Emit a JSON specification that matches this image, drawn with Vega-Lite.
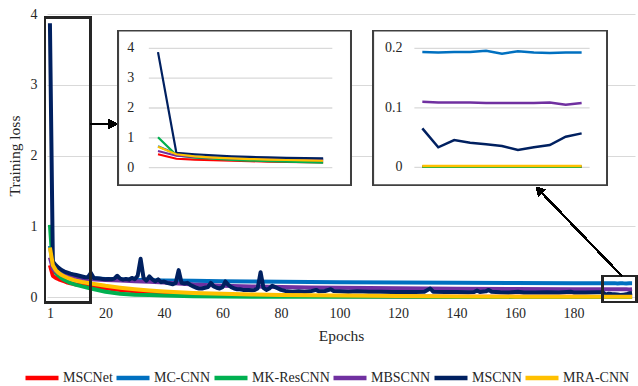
{
"$schema": "https://vega.github.io/schema/vega-lite/v6.json",
"width": 588, "height": 283,
"autosize": "none",
"padding": {"left": 47, "top": 14, "right": 3, "bottom": 89},
"config": {
 "view": {"stroke": null},
 "font": "Liberation Serif",
 "axis": {"labelFont": "Liberation Serif", "titleFont": "Liberation Serif", "labelColor": "#262626", "titleColor": "#262626", "labelFontSize": 14, "titleFontSize": 15.5, "titleFontWeight": "normal", "domain": false, "ticks": false, "tickSize": 0, "gridColor": "#d9d9d9", "gridWidth": 1.2}
},
"data": {"values": [
{"model":"MSCNet","epoch":1,"loss":0.45},{"model":"MSCNet","epoch":2,"loss":0.30},{"model":"MSCNet","epoch":3,"loss":0.27},{"model":"MSCNet","epoch":4,"loss":0.25},{"model":"MSCNet","epoch":5,"loss":0.235},{"model":"MSCNet","epoch":6,"loss":0.22},{"model":"MSCNet","epoch":7,"loss":0.205},{"model":"MSCNet","epoch":8,"loss":0.195},{"model":"MSCNet","epoch":9,"loss":0.185},{"model":"MSCNet","epoch":10,"loss":0.178},{"model":"MSCNet","epoch":12,"loss":0.165},{"model":"MSCNet","epoch":15,"loss":0.148},{"model":"MSCNet","epoch":20,"loss":0.122},{"model":"MSCNet","epoch":25,"loss":0.1},{"model":"MSCNet","epoch":30,"loss":0.082},{"model":"MSCNet","epoch":35,"loss":0.068},{"model":"MSCNet","epoch":40,"loss":0.057},{"model":"MSCNet","epoch":50,"loss":0.042},{"model":"MSCNet","epoch":60,"loss":0.032},{"model":"MSCNet","epoch":70,"loss":0.025},{"model":"MSCNet","epoch":80,"loss":0.019},{"model":"MSCNet","epoch":90,"loss":0.014},{"model":"MSCNet","epoch":100,"loss":0.011},{"model":"MSCNet","epoch":120,"loss":0.006},{"model":"MSCNet","epoch":140,"loss":0.004},{"model":"MSCNet","epoch":160,"loss":0.003},{"model":"MSCNet","epoch":180,"loss":0.002},
{"model":"MSCNet","epoch":190,"loss":0.001},{"model":"MSCNet","epoch":191,"loss":0.001},{"model":"MSCNet","epoch":192,"loss":0.001},{"model":"MSCNet","epoch":193,"loss":0.001},{"model":"MSCNet","epoch":194,"loss":0.001},{"model":"MSCNet","epoch":195,"loss":0.001},{"model":"MSCNet","epoch":196,"loss":0.001},{"model":"MSCNet","epoch":197,"loss":0.001},{"model":"MSCNet","epoch":198,"loss":0.001},{"model":"MSCNet","epoch":199,"loss":0.001},{"model":"MSCNet","epoch":200,"loss":0.001},
{"model":"MC-CNN","epoch":1,"loss":0.72},{"model":"MC-CNN","epoch":2,"loss":0.46},{"model":"MC-CNN","epoch":3,"loss":0.39},{"model":"MC-CNN","epoch":4,"loss":0.35},{"model":"MC-CNN","epoch":5,"loss":0.325},{"model":"MC-CNN","epoch":6,"loss":0.31},{"model":"MC-CNN","epoch":7,"loss":0.3},{"model":"MC-CNN","epoch":8,"loss":0.29},{"model":"MC-CNN","epoch":9,"loss":0.285},{"model":"MC-CNN","epoch":10,"loss":0.28},{"model":"MC-CNN","epoch":12,"loss":0.272},{"model":"MC-CNN","epoch":15,"loss":0.264},{"model":"MC-CNN","epoch":20,"loss":0.255},{"model":"MC-CNN","epoch":25,"loss":0.248},{"model":"MC-CNN","epoch":30,"loss":0.243},{"model":"MC-CNN","epoch":35,"loss":0.238},{"model":"MC-CNN","epoch":40,"loss":0.234},{"model":"MC-CNN","epoch":50,"loss":0.228},{"model":"MC-CNN","epoch":60,"loss":0.223},{"model":"MC-CNN","epoch":70,"loss":0.218},{"model":"MC-CNN","epoch":80,"loss":0.214},{"model":"MC-CNN","epoch":90,"loss":0.211},{"model":"MC-CNN","epoch":100,"loss":0.208},{"model":"MC-CNN","epoch":120,"loss":0.204},{"model":"MC-CNN","epoch":140,"loss":0.2},{"model":"MC-CNN","epoch":160,"loss":0.197},{"model":"MC-CNN","epoch":180,"loss":0.195},
{"model":"MC-CNN","epoch":190,"loss":0.194},{"model":"MC-CNN","epoch":191,"loss":0.193},{"model":"MC-CNN","epoch":192,"loss":0.194},{"model":"MC-CNN","epoch":193,"loss":0.194},{"model":"MC-CNN","epoch":194,"loss":0.196},{"model":"MC-CNN","epoch":195,"loss":0.191},{"model":"MC-CNN","epoch":196,"loss":0.195},{"model":"MC-CNN","epoch":197,"loss":0.193},{"model":"MC-CNN","epoch":198,"loss":0.192},{"model":"MC-CNN","epoch":199,"loss":0.193},{"model":"MC-CNN","epoch":200,"loss":0.193},
{"model":"MK-ResCNN","epoch":1,"loss":1.02},{"model":"MK-ResCNN","epoch":2,"loss":0.42},{"model":"MK-ResCNN","epoch":3,"loss":0.34},{"model":"MK-ResCNN","epoch":4,"loss":0.3},{"model":"MK-ResCNN","epoch":5,"loss":0.265},{"model":"MK-ResCNN","epoch":6,"loss":0.24},{"model":"MK-ResCNN","epoch":7,"loss":0.22},{"model":"MK-ResCNN","epoch":8,"loss":0.2},{"model":"MK-ResCNN","epoch":9,"loss":0.185},{"model":"MK-ResCNN","epoch":10,"loss":0.172},{"model":"MK-ResCNN","epoch":12,"loss":0.15},{"model":"MK-ResCNN","epoch":15,"loss":0.12},{"model":"MK-ResCNN","epoch":20,"loss":0.075},{"model":"MK-ResCNN","epoch":25,"loss":0.045},{"model":"MK-ResCNN","epoch":30,"loss":0.032},{"model":"MK-ResCNN","epoch":35,"loss":0.03},{"model":"MK-ResCNN","epoch":40,"loss":0.02},{"model":"MK-ResCNN","epoch":50,"loss":0.012},{"model":"MK-ResCNN","epoch":60,"loss":0.008},{"model":"MK-ResCNN","epoch":70,"loss":0.005},{"model":"MK-ResCNN","epoch":80,"loss":0.004},{"model":"MK-ResCNN","epoch":90,"loss":0.003},{"model":"MK-ResCNN","epoch":100,"loss":0.002},{"model":"MK-ResCNN","epoch":120,"loss":0.002},{"model":"MK-ResCNN","epoch":140,"loss":0.001},{"model":"MK-ResCNN","epoch":160,"loss":0.001},{"model":"MK-ResCNN","epoch":180,"loss":0.001},
{"model":"MK-ResCNN","epoch":190,"loss":0.001},{"model":"MK-ResCNN","epoch":191,"loss":0.001},{"model":"MK-ResCNN","epoch":192,"loss":0.001},{"model":"MK-ResCNN","epoch":193,"loss":0.001},{"model":"MK-ResCNN","epoch":194,"loss":0.001},{"model":"MK-ResCNN","epoch":195,"loss":0.001},{"model":"MK-ResCNN","epoch":196,"loss":0.001},{"model":"MK-ResCNN","epoch":197,"loss":0.001},{"model":"MK-ResCNN","epoch":198,"loss":0.001},{"model":"MK-ResCNN","epoch":199,"loss":0.001},{"model":"MK-ResCNN","epoch":200,"loss":0.001},
{"model":"MBSCNN","epoch":1,"loss":0.56},{"model":"MBSCNN","epoch":2,"loss":0.4},{"model":"MBSCNN","epoch":3,"loss":0.36},{"model":"MBSCNN","epoch":4,"loss":0.335},{"model":"MBSCNN","epoch":5,"loss":0.315},{"model":"MBSCNN","epoch":6,"loss":0.3},{"model":"MBSCNN","epoch":7,"loss":0.29},{"model":"MBSCNN","epoch":8,"loss":0.28},{"model":"MBSCNN","epoch":9,"loss":0.272},{"model":"MBSCNN","epoch":10,"loss":0.265},{"model":"MBSCNN","epoch":12,"loss":0.258},{"model":"MBSCNN","epoch":15,"loss":0.25},{"model":"MBSCNN","epoch":20,"loss":0.24},{"model":"MBSCNN","epoch":25,"loss":0.232},{"model":"MBSCNN","epoch":30,"loss":0.224},{"model":"MBSCNN","epoch":35,"loss":0.215},{"model":"MBSCNN","epoch":40,"loss":0.205},{"model":"MBSCNN","epoch":50,"loss":0.175},{"model":"MBSCNN","epoch":60,"loss":0.16},{"model":"MBSCNN","epoch":70,"loss":0.15},{"model":"MBSCNN","epoch":80,"loss":0.143},{"model":"MBSCNN","epoch":90,"loss":0.136},{"model":"MBSCNN","epoch":100,"loss":0.13},{"model":"MBSCNN","epoch":120,"loss":0.122},{"model":"MBSCNN","epoch":140,"loss":0.117},{"model":"MBSCNN","epoch":160,"loss":0.113},{"model":"MBSCNN","epoch":180,"loss":0.111},
{"model":"MBSCNN","epoch":190,"loss":0.11},{"model":"MBSCNN","epoch":191,"loss":0.109},{"model":"MBSCNN","epoch":192,"loss":0.109},{"model":"MBSCNN","epoch":193,"loss":0.109},{"model":"MBSCNN","epoch":194,"loss":0.108},{"model":"MBSCNN","epoch":195,"loss":0.108},{"model":"MBSCNN","epoch":196,"loss":0.108},{"model":"MBSCNN","epoch":197,"loss":0.108},{"model":"MBSCNN","epoch":198,"loss":0.109},{"model":"MBSCNN","epoch":199,"loss":0.105},{"model":"MBSCNN","epoch":200,"loss":0.108},
{"model":"MSCNN","epoch":1,"loss":3.87},{"model":"MSCNN","epoch":2,"loss":0.5},{"model":"MSCNN","epoch":3,"loss":0.45},{"model":"MSCNN","epoch":4,"loss":0.41},{"model":"MSCNN","epoch":5,"loss":0.38},{"model":"MSCNN","epoch":6,"loss":0.36},{"model":"MSCNN","epoch":7,"loss":0.345},{"model":"MSCNN","epoch":8,"loss":0.33},{"model":"MSCNN","epoch":9,"loss":0.32},{"model":"MSCNN","epoch":10,"loss":0.31},
{"model":"MSCNN","epoch":11,"loss":0.3},{"model":"MSCNN","epoch":12,"loss":0.29},{"model":"MSCNN","epoch":13,"loss":0.28},{"model":"MSCNN","epoch":14,"loss":0.28},{"model":"MSCNN","epoch":15,"loss":0.34},{"model":"MSCNN","epoch":16,"loss":0.27},{"model":"MSCNN","epoch":17,"loss":0.265},{"model":"MSCNN","epoch":18,"loss":0.26},{"model":"MSCNN","epoch":19,"loss":0.255},{"model":"MSCNN","epoch":20,"loss":0.25},
{"model":"MSCNN","epoch":21,"loss":0.255},{"model":"MSCNN","epoch":22,"loss":0.25},{"model":"MSCNN","epoch":23,"loss":0.26},{"model":"MSCNN","epoch":24,"loss":0.3},{"model":"MSCNN","epoch":25,"loss":0.26},{"model":"MSCNN","epoch":26,"loss":0.245},{"model":"MSCNN","epoch":27,"loss":0.255},{"model":"MSCNN","epoch":28,"loss":0.245},{"model":"MSCNN","epoch":29,"loss":0.27},{"model":"MSCNN","epoch":30,"loss":0.25},
{"model":"MSCNN","epoch":31,"loss":0.3},{"model":"MSCNN","epoch":32,"loss":0.54},{"model":"MSCNN","epoch":33,"loss":0.27},{"model":"MSCNN","epoch":34,"loss":0.23},{"model":"MSCNN","epoch":35,"loss":0.29},{"model":"MSCNN","epoch":36,"loss":0.25},{"model":"MSCNN","epoch":37,"loss":0.22},{"model":"MSCNN","epoch":38,"loss":0.25},{"model":"MSCNN","epoch":39,"loss":0.21},{"model":"MSCNN","epoch":40,"loss":0.22},
{"model":"MSCNN","epoch":41,"loss":0.2},{"model":"MSCNN","epoch":42,"loss":0.19},{"model":"MSCNN","epoch":43,"loss":0.18},{"model":"MSCNN","epoch":44,"loss":0.2},{"model":"MSCNN","epoch":45,"loss":0.38},{"model":"MSCNN","epoch":46,"loss":0.2},{"model":"MSCNN","epoch":47,"loss":0.19},{"model":"MSCNN","epoch":48,"loss":0.2},{"model":"MSCNN","epoch":49,"loss":0.17},{"model":"MSCNN","epoch":50,"loss":0.15},
{"model":"MSCNN","epoch":51,"loss":0.13},{"model":"MSCNN","epoch":52,"loss":0.12},{"model":"MSCNN","epoch":53,"loss":0.12},{"model":"MSCNN","epoch":54,"loss":0.13},{"model":"MSCNN","epoch":55,"loss":0.14},{"model":"MSCNN","epoch":56,"loss":0.2},{"model":"MSCNN","epoch":57,"loss":0.15},{"model":"MSCNN","epoch":58,"loss":0.13},{"model":"MSCNN","epoch":59,"loss":0.12},{"model":"MSCNN","epoch":60,"loss":0.14},
{"model":"MSCNN","epoch":61,"loss":0.22},{"model":"MSCNN","epoch":62,"loss":0.17},{"model":"MSCNN","epoch":63,"loss":0.14},{"model":"MSCNN","epoch":64,"loss":0.12},{"model":"MSCNN","epoch":65,"loss":0.11},{"model":"MSCNN","epoch":66,"loss":0.11},{"model":"MSCNN","epoch":67,"loss":0.1},{"model":"MSCNN","epoch":68,"loss":0.1},{"model":"MSCNN","epoch":69,"loss":0.1},{"model":"MSCNN","epoch":70,"loss":0.095},
{"model":"MSCNN","epoch":71,"loss":0.1},{"model":"MSCNN","epoch":72,"loss":0.12},{"model":"MSCNN","epoch":73,"loss":0.35},{"model":"MSCNN","epoch":74,"loss":0.13},{"model":"MSCNN","epoch":75,"loss":0.1},{"model":"MSCNN","epoch":76,"loss":0.12},{"model":"MSCNN","epoch":77,"loss":0.16},{"model":"MSCNN","epoch":78,"loss":0.14},{"model":"MSCNN","epoch":79,"loss":0.12},{"model":"MSCNN","epoch":80,"loss":0.1},
{"model":"MSCNN","epoch":81,"loss":0.09},{"model":"MSCNN","epoch":82,"loss":0.08},{"model":"MSCNN","epoch":84,"loss":0.075},{"model":"MSCNN","epoch":86,"loss":0.08},{"model":"MSCNN","epoch":88,"loss":0.075},{"model":"MSCNN","epoch":90,"loss":0.08},{"model":"MSCNN","epoch":92,"loss":0.1},{"model":"MSCNN","epoch":93,"loss":0.08},{"model":"MSCNN","epoch":95,"loss":0.085},{"model":"MSCNN","epoch":97,"loss":0.11},{"model":"MSCNN","epoch":98,"loss":0.085},{"model":"MSCNN","epoch":100,"loss":0.08},
{"model":"MSCNN","epoch":103,"loss":0.075},{"model":"MSCNN","epoch":106,"loss":0.08},{"model":"MSCNN","epoch":110,"loss":0.075},{"model":"MSCNN","epoch":114,"loss":0.075},{"model":"MSCNN","epoch":118,"loss":0.07},{"model":"MSCNN","epoch":122,"loss":0.072},{"model":"MSCNN","epoch":126,"loss":0.07},{"model":"MSCNN","epoch":129,"loss":0.075},{"model":"MSCNN","epoch":131,"loss":0.12},{"model":"MSCNN","epoch":132,"loss":0.075},{"model":"MSCNN","epoch":136,"loss":0.07},{"model":"MSCNN","epoch":140,"loss":0.07},
{"model":"MSCNN","epoch":144,"loss":0.068},{"model":"MSCNN","epoch":146,"loss":0.07},{"model":"MSCNN","epoch":147,"loss":0.09},{"model":"MSCNN","epoch":148,"loss":0.07},{"model":"MSCNN","epoch":150,"loss":0.08},{"model":"MSCNN","epoch":151,"loss":0.1},{"model":"MSCNN","epoch":152,"loss":0.075},{"model":"MSCNN","epoch":155,"loss":0.068},{"model":"MSCNN","epoch":158,"loss":0.065},{"model":"MSCNN","epoch":161,"loss":0.075},{"model":"MSCNN","epoch":163,"loss":0.065},{"model":"MSCNN","epoch":167,"loss":0.065},{"model":"MSCNN","epoch":171,"loss":0.068},{"model":"MSCNN","epoch":175,"loss":0.065},{"model":"MSCNN","epoch":179,"loss":0.075},{"model":"MSCNN","epoch":180,"loss":0.065},{"model":"MSCNN","epoch":184,"loss":0.065},{"model":"MSCNN","epoch":188,"loss":0.068},
{"model":"MSCNN","epoch":190,"loss":0.0655},{"model":"MSCNN","epoch":191,"loss":0.0336},{"model":"MSCNN","epoch":192,"loss":0.0459},{"model":"MSCNN","epoch":193,"loss":0.0414},{"model":"MSCNN","epoch":194,"loss":0.0386},{"model":"MSCNN","epoch":195,"loss":0.0358},{"model":"MSCNN","epoch":196,"loss":0.029},{"model":"MSCNN","epoch":197,"loss":0.0336},{"model":"MSCNN","epoch":198,"loss":0.0375},{"model":"MSCNN","epoch":199,"loss":0.0515},{"model":"MSCNN","epoch":200,"loss":0.057},
{"model":"MRA-CNN","epoch":1,"loss":0.7},{"model":"MRA-CNN","epoch":2,"loss":0.45},{"model":"MRA-CNN","epoch":3,"loss":0.38},{"model":"MRA-CNN","epoch":4,"loss":0.34},{"model":"MRA-CNN","epoch":5,"loss":0.31},{"model":"MRA-CNN","epoch":6,"loss":0.29},{"model":"MRA-CNN","epoch":7,"loss":0.272},{"model":"MRA-CNN","epoch":8,"loss":0.257},{"model":"MRA-CNN","epoch":9,"loss":0.243},{"model":"MRA-CNN","epoch":10,"loss":0.232},{"model":"MRA-CNN","epoch":12,"loss":0.213},{"model":"MRA-CNN","epoch":15,"loss":0.19},{"model":"MRA-CNN","epoch":20,"loss":0.158},{"model":"MRA-CNN","epoch":25,"loss":0.132},{"model":"MRA-CNN","epoch":30,"loss":0.11},{"model":"MRA-CNN","epoch":35,"loss":0.092},{"model":"MRA-CNN","epoch":40,"loss":0.078},{"model":"MRA-CNN","epoch":50,"loss":0.058},{"model":"MRA-CNN","epoch":60,"loss":0.046},{"model":"MRA-CNN","epoch":70,"loss":0.037},{"model":"MRA-CNN","epoch":80,"loss":0.03},{"model":"MRA-CNN","epoch":90,"loss":0.024},{"model":"MRA-CNN","epoch":100,"loss":0.02},{"model":"MRA-CNN","epoch":120,"loss":0.013},{"model":"MRA-CNN","epoch":140,"loss":0.008},{"model":"MRA-CNN","epoch":160,"loss":0.005},{"model":"MRA-CNN","epoch":180,"loss":0.003},
{"model":"MRA-CNN","epoch":190,"loss":0.002},{"model":"MRA-CNN","epoch":191,"loss":0.002},{"model":"MRA-CNN","epoch":192,"loss":0.002},{"model":"MRA-CNN","epoch":193,"loss":0.002},{"model":"MRA-CNN","epoch":194,"loss":0.002},{"model":"MRA-CNN","epoch":195,"loss":0.002},{"model":"MRA-CNN","epoch":196,"loss":0.002},{"model":"MRA-CNN","epoch":197,"loss":0.002},{"model":"MRA-CNN","epoch":198,"loss":0.002},{"model":"MRA-CNN","epoch":199,"loss":0.002},{"model":"MRA-CNN","epoch":200,"loss":0.002}
]},
"layer": [
 {"layer": [
  {"mark": {"type": "line", "strokeWidth": 4, "strokeJoin": "round"},
   "encoding": {
    "x": {"field": "epoch", "type": "quantitative", "scale": {"domain": [0, 201], "nice": false, "zero": false},
          "axis": {"values": [1,20,40,60,80,100,120,140,160,180], "grid": false, "title": "Epochs", "labelPadding": 9, "titlePadding": 8, "labelFlush": false}},
    "y": {"field": "loss", "type": "quantitative", "scale": {"domain": [0, 4], "nice": false},
          "axis": {"values": [0,1,2,3,4], "grid": true, "title": "Training loss", "labelPadding": 10, "titlePadding": 8, "format": "d"}},
    "color": {"field": "model", "type": "nominal",
              "scale": {"domain": ["MSCNet","MC-CNN","MK-ResCNN","MBSCNN","MSCNN","MRA-CNN"], "range": ["#FF0000","#0070C0","#00B050","#7030A0","#002060","#FFC000"]},
              "legend": {"orient": "none", "legendX": -24, "legendY": 345, "direction": "horizontal", "columns": 6, "title": null, "symbolType": "stroke", "symbolStrokeWidth": 4.5, "symbolSize": 1089, "labelFont": "Liberation Serif", "labelFontSize": 14, "labelColor": "#262626", "labelOffset": 2, "columnPadding": -6}}
   }},
  {"mark": {"type": "rect", "filled": false, "stroke": "#262626", "strokeWidth": 1.8},
   "encoding": {"x": {"datum": -0.68}, "x2": {"datum": 14.94}, "y": {"datum": 3.95}, "y2": {"datum": -0.08}}},
  {"mark": {"type": "rect", "filled": false, "stroke": "#262626", "strokeWidth": 1.8},
   "encoding": {"x": {"datum": 189.8}, "x2": {"datum": 201.4}, "y": {"datum": 0.297}, "y2": {"datum": -0.071}}},
  {"mark": {"type": "rule", "color": "#000000", "strokeWidth": 1.3},
   "encoding": {"x": {"datum": 14.94}, "x2": {"datum": 22.5}, "y": {"datum": 2.445}, "y2": {"datum": 2.445}}},
  {"mark": {"type": "point", "shape": "triangle-right", "filled": true, "color": "#000000", "size": 90, "opacity": 1},
   "encoding": {"x": {"datum": 22.5}, "y": {"datum": 2.445}}},
  {"mark": {"type": "rule", "color": "#000000", "strokeWidth": 1.2},
   "encoding": {"x": {"datum": 196.5}, "x2": {"datum": 168.2}, "y": {"datum": 0.297}, "y2": {"datum": 1.512}}},
  {"mark": {"type": "point", "shape": "triangle-up", "angle": 316, "filled": true, "color": "#000000", "size": 90, "opacity": 1},
   "encoding": {"x": {"datum": 168.2}, "y": {"datum": 1.512}}},
  {"mark": {"type": "rect", "fill": "#ffffff", "stroke": "#404040", "strokeWidth": 1.5},
   "encoding": {"x": {"datum": 24.38}, "x2": {"datum": 103.83}, "y": {"datum": 3.764}, "y2": {"datum": 1.583}}},
  {"mark": {"type": "rect", "fill": "#ffffff", "stroke": "#404040", "strokeWidth": 1.5},
   "encoding": {"x": {"datum": 111.56}, "x2": {"datum": 191.35}, "y": {"datum": 3.764}, "y2": {"datum": 1.583}}}
 ]},
 {"layer": [
  {"data": {"values": [{"g": 0}, {"g": 1}, {"g": 2}, {"g": 3}, {"g": 4}]},
   "mark": {"type": "rule", "color": "#d9d9d9", "strokeWidth": 1.3},
   "encoding": {"x": {"datum": 0.5, "axis": null}, "x2": {"datum": 10.5}, "y": {"field": "g", "type": "quantitative", "axis": null}}},
  {"data": {"values": [{"g": 0}, {"g": 1}, {"g": 2}, {"g": 3}, {"g": 4}]},
   "mark": {"type": "text", "align": "right", "baseline": "middle", "fontSize": 14, "font": "Liberation Serif", "color": "#262626"},
   "encoding": {"x": {"datum": -0.29, "axis": null}, "y": {"field": "g", "type": "quantitative", "axis": null}, "text": {"field": "g", "type": "quantitative", "format": "d"}}},
  {"transform": [{"filter": "datum.epoch <= 10"}],
   "mark": {"type": "line", "strokeWidth": 2.2},
   "encoding": {
    "x": {"field": "epoch", "type": "quantitative", "scale": {"domain": [-5.049, 26.995], "nice": false, "zero": false}, "axis": null},
    "y": {"field": "loss", "type": "quantitative", "scale": {"domain": [-4.332, 5.149], "nice": false, "zero": false}, "axis": null},
    "color": {"field": "model", "type": "nominal"}}}
 ]},
 {"layer": [
  {"data": {"values": [{"g": 0}, {"g": 0.1}, {"g": 0.2}]},
   "mark": {"type": "rule", "color": "#d9d9d9", "strokeWidth": 1.3},
   "encoding": {"x": {"datum": 189.5, "axis": null}, "x2": {"datum": 200.5}, "y": {"field": "g", "type": "quantitative", "axis": null}}},
  {"data": {"values": [{"g": 0}, {"g": 0.1}, {"g": 0.2}]},
   "mark": {"type": "text", "align": "right", "baseline": "middle", "fontSize": 14, "font": "Liberation Serif", "color": "#262626"},
   "encoding": {"x": {"datum": 188.76, "axis": null}, "y": {"field": "g", "type": "quantitative", "axis": null}, "text": {"field": "g", "type": "quantitative", "format": ".1~f"}}},
  {"transform": [{"filter": "datum.epoch >= 190"}],
   "mark": {"type": "line", "strokeWidth": 2.5},
   "encoding": {
    "x": {"field": "epoch", "type": "quantitative", "scale": {"domain": [166.44, 203.35], "nice": false, "zero": false}, "axis": null},
    "y": {"field": "loss", "type": "quantitative", "scale": {"domain": [-0.218, 0.2577], "nice": false, "zero": false}, "axis": null},
    "color": {"field": "model", "type": "nominal"}}}
 ]}
],
"resolve": {"scale": {"x": "independent", "y": "independent"}}
}
